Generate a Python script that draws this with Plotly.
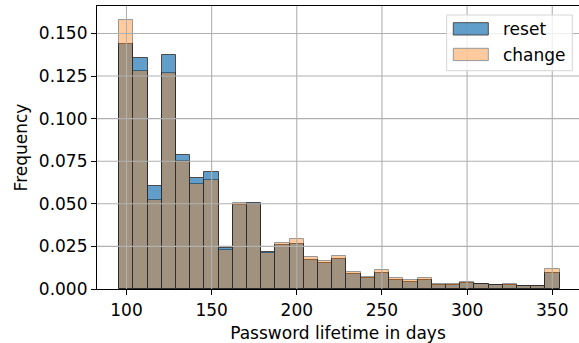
import plotly.graph_objects as go

# Histogram data (normalized frequencies), 31 equal bins
bin_start = 95.7
bin_end = 354.3
n_bins = 31
reset = [0.1436, 0.1357, 0.0606, 0.1373, 0.0788, 0.0650, 0.0688, 0.0243, 0.0491, 0.0502,
         0.0215, 0.0256, 0.0266, 0.0170, 0.0155, 0.0176, 0.0086, 0.0066, 0.0092, 0.0053,
         0.0041, 0.0051, 0.0025, 0.0025, 0.0037, 0.0028, 0.0022, 0.0022, 0.0018, 0.0018,
         0.0094]
change = [0.1579, 0.1277, 0.0520, 0.1266, 0.0753, 0.0618, 0.0638, 0.0229, 0.0507, 0.0498,
          0.0212, 0.0271, 0.0293, 0.0186, 0.0164, 0.0195, 0.0100, 0.0072, 0.0110, 0.0066,
          0.0050, 0.0064, 0.0032, 0.0032, 0.0044, 0.0028, 0.0022, 0.0029, 0.0018, 0.0015,
          0.0119]
series_names = ["reset", "change"]
series_colors = ["#1f77b4", "#ff7f0e"]
series_alpha = [0.7, 0.4]
x_ticks = [100, 150, 200, 250, 300, 350]
y_ticks = [0.0, 0.025, 0.05, 0.075, 0.1, 0.125, 0.15]

width = (bin_end - bin_start) / n_bins
centers = [bin_start + width * (i + 0.5) for i in range(n_bins)]

FONT = "DejaVu Sans"
FS = 17
W, H = 579, 343
ML, MR, MT, MB = 97, 0, 6, 54

fig = go.Figure()
for name, vals, col, a in zip(series_names, [reset, change], series_colors, series_alpha):
    fig.add_trace(go.Bar(x=centers, y=vals, width=[width] * n_bins, name=name,
                         marker=dict(color=col, line=dict(color="black", width=1)),
                         opacity=a, showlegend=False))

xr = [82.7, 365.7]
yr = [0, 0.1661]

def px_x(p):
    return (p - ML) / (W - ML - MR)

def px_y(p):
    return (H - MB - p) / (H - MT - MB)

shapes = []
for v in x_ticks:
    shapes.append(dict(type="line", xref="x", yref="paper", x0=v, x1=v, y0=0, y1=1,
                       line=dict(color="#b0b0b0", width=1.1), layer="above"))
for v in y_ticks[1:]:
    shapes.append(dict(type="line", xref="paper", yref="y", x0=0, x1=1, y0=v, y1=v,
                       line=dict(color="#b0b0b0", width=1.1), layer="above"))

# custom legend (matplotlib style)
shapes.append(dict(type="rect", xref="paper", yref="paper",
                   x0=px_x(446.7), x1=px_x(572.3), y0=px_y(70.7), y1=px_y(15),
                   fillcolor="rgba(255,255,255,0.8)", line=dict(color="#d6d6d6", width=1),
                   layer="above"))
annotations = []
sw_top = [22.7, 48.3]
for i, (name, col, a) in enumerate(zip(series_names, series_colors, series_alpha)):
    shapes.append(dict(type="rect", xref="paper", yref="paper",
                       x0=px_x(453.3), x1=px_x(488.3), y0=px_y(sw_top[i] + 12.3), y1=px_y(sw_top[i]),
                       fillcolor=col, opacity=a, line=dict(color="black", width=1),
                       layer="above"))
    annotations.append(dict(xref="paper", yref="paper", x=px_x(501), y=px_y(sw_top[i] + 6.5),
                            xanchor="left", yanchor="middle", text=name, showarrow=False,
                            font=dict(family=FONT, size=FS, color="black")))

fig.update_layout(
    width=W, height=H,
    margin=dict(l=ML, r=MR, t=MT, b=MB),
    barmode="overlay",
    bargap=0,
    plot_bgcolor="white", paper_bgcolor="white",
    font=dict(family=FONT, size=FS, color="black"),
    shapes=shapes,
    annotations=annotations,
    xaxis=dict(range=xr, tickvals=x_ticks, ticktext=[str(v) for v in x_ticks],
               showgrid=False, zeroline=False, showline=True, linecolor="black",
               linewidth=1.2, mirror=True, ticks="outside", ticklen=5, tickcolor="black",
               title=dict(text="Password lifetime in days", standoff=10,
                          font=dict(family=FONT, size=FS))),
    yaxis=dict(range=yr, tickvals=y_ticks, ticktext=["%.3f" % v for v in y_ticks],
               showgrid=False, zeroline=False, showline=True, linecolor="black",
               linewidth=1.2, ticks="outside", ticklen=5, tickcolor="black",
               title=dict(text="Frequency", standoff=6, font=dict(family=FONT, size=FS))),
)

fig.write_html("out.html")
